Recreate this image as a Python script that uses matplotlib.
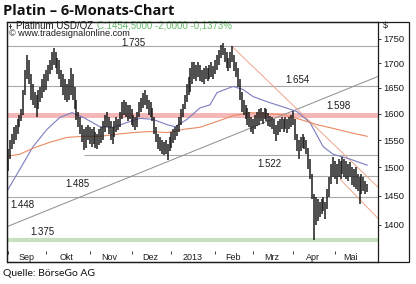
#Purpose: Platinum 6-month bar chart with support/resistance levels
##########################################
import matplotlib.pyplot as plt
import numpy as np
import pandas as pd
from matplotlib.patches import Rectangle

##########################################
#Data (USD/oz, daily bars)
start_date = '2012-09-03'

highs = [1533, 1551, 1561, 1574, 1579, 1589, 1598, 1608, 1647, 1687,
         1717, 1707, 1677, 1657, 1643, 1637, 1647, 1651, 1667, 1677,
         1687, 1697, 1707, 1723, 1731, 1723, 1711, 1707, 1687, 1677,
         1667, 1657, 1667, 1691, 1677, 1651, 1627, 1604, 1593, 1579,
         1570, 1574, 1579, 1575, 1570, 1574, 1566, 1561, 1570, 1574,
         1585, 1598, 1604, 1593, 1585, 1574, 1585, 1593, 1589, 1604,
         1623, 1627, 1623, 1617, 1617, 1608, 1598, 1593, 1604, 1623,
         1631, 1641, 1647, 1637, 1627, 1623, 1611, 1593, 1574, 1561,
         1555, 1551, 1547, 1551, 1542, 1555, 1566, 1570, 1574, 1579,
         1593, 1608, 1619, 1637, 1657, 1671, 1691, 1703, 1703, 1697,
         1703, 1697, 1687, 1691, 1695, 1691, 1697, 1703, 1695, 1707,
         1717, 1727, 1738, 1741, 1731, 1723, 1711, 1723, 1735, 1717,
         1703, 1691, 1667, 1643, 1627, 1617, 1611, 1604, 1593, 1589,
         1598, 1604, 1608, 1611, 1604, 1611, 1608, 1602, 1596, 1593,
         1589, 1579, 1585, 1589, 1593, 1589, 1593, 1589, 1593, 1598,
         1606, 1589, 1561, 1551, 1555, 1561, 1555, 1551, 1536, 1515,
         1488, 1452, 1447, 1444, 1439, 1444, 1447, 1439, 1461, 1483,
         1506, 1518, 1511, 1506, 1515, 1511, 1518, 1515, 1511, 1506,
         1509, 1500, 1497, 1500, 1488, 1483, 1488, 1483, 1475, 1470]

lows = [1493, 1515, 1533, 1542, 1551, 1561, 1574, 1585, 1598, 1637,
        1667, 1657, 1627, 1617, 1611, 1593, 1608, 1623, 1631, 1643,
        1647, 1663, 1677, 1687, 1697, 1691, 1677, 1667, 1651, 1637,
        1627, 1623, 1627, 1637, 1627, 1608, 1587, 1574, 1561, 1547,
        1531, 1536, 1551, 1542, 1538, 1542, 1536, 1533, 1540, 1544,
        1551, 1566, 1574, 1561, 1551, 1542, 1555, 1566, 1568, 1574,
        1589, 1598, 1593, 1585, 1589, 1579, 1574, 1568, 1574, 1593,
        1604, 1611, 1617, 1608, 1598, 1593, 1585, 1561, 1547, 1533,
        1529, 1524, 1522, 1524, 1513, 1529, 1536, 1544, 1551, 1557,
        1566, 1579, 1593, 1608, 1623, 1637, 1643, 1657, 1667, 1663,
        1671, 1663, 1661, 1657, 1667, 1663, 1667, 1671, 1667, 1677,
        1687, 1697, 1711, 1717, 1703, 1691, 1683, 1691, 1703, 1683,
        1671, 1651, 1627, 1604, 1598, 1589, 1579, 1574, 1566, 1561,
        1570, 1577, 1579, 1585, 1581, 1589, 1585, 1577, 1574, 1570,
        1561, 1549, 1559, 1566, 1570, 1566, 1570, 1564, 1570, 1574,
        1579, 1551, 1529, 1515, 1529, 1536, 1533, 1524, 1497, 1479,
        1444, 1375, 1400, 1406, 1413, 1418, 1423, 1410, 1427, 1447,
        1470, 1483, 1479, 1470, 1483, 1479, 1488, 1483, 1479, 1475,
        1483, 1468, 1465, 1461, 1458, 1435, 1452, 1458, 1452, 1456]

#Moving averages, sampled (bar index, price)
ma_fast_idx = [-0.5, 6.3, 13.2, 20.5, 27.4, 33.7, 39.5, 48.4, 55.3, 62.6, 69.5, 76.3, 83.7, 87.9,
               94.2, 101, 106.3, 110, 118.4, 123.7, 129, 136.3, 144.7, 152, 158.9, 165.8, 171, 180, 189]
ma_fast_val = [1458, 1497, 1538, 1570, 1593, 1602, 1593, 1575, 1574, 1583, 1591, 1589, 1579, 1575,
               1589, 1611, 1617, 1641, 1653, 1647, 1633, 1623, 1613, 1604, 1583, 1538, 1524, 1515, 1504]
ma_slow_idx = [-0.5, 6.3, 13.2, 22.1, 31.1, 39.5, 48.4, 57.4, 65.8, 74.7, 83.7, 92.1,
               101, 110, 118.4, 127.4, 136.3, 144.7, 153.7, 162.6, 171, 180, 189]
ma_slow_val = [1520, 1524, 1535, 1546, 1555, 1557, 1557, 1561, 1564, 1566, 1564, 1570,
               1574, 1585, 1596, 1602, 1600, 1598, 1589, 1579, 1572, 1564, 1557]

#Trend lines (bar index, price)
trend_up = [(-0.53, 1397), (194.7, 1673)]
trend_down = [(117.7, 1735), (194.7, 1465)]
channel_low = [(174.7, 1479), (194.7, 1411)]

#Horizontal levels
levels = [1735, 1654, 1522, 1485, 1448]
level_labels = ['1.735', '1.654', '1.522', '1.485', '1.448']
level_start = [None, None, 40, None, None]
resist_band = 1598
support_band = 1375

month_names = ['Sep', 'Okt', 'Nov', 'Dez', '2013', 'Feb', 'Mrz', 'Apr', 'Mai']
y_ticks = [1400, 1450, 1500, 1550, 1600, 1650, 1700, 1750]

##########################################
#Build index
dates = pd.bdate_range(start_date, periods=len(highs))
idx = np.arange(len(dates))
month_key = dates.year * 100 + dates.month
month_starts = []
month_mids = []
for key in pd.unique(month_key):
    pos = idx[month_key == key]
    month_starts.append(pos[0])
    month_mids.append((pos[0] + pos[-1]) / 2.)

font_name = 'Liberation Sans'
ink = '#1c1c1c'

fig = plt.figure(figsize=(4.16, 2.84), dpi=100)
ax = fig.add_axes([7/416, 22/284, 371/416, 240/284])
ax.set_yscale('log')
ax.set_xlim(-0.53, 194.7)
ax.set_ylim(1339, 1786)

#Bands and levels
ax.axhline(resist_band, color='#f5b8b8', lw=3.6, zorder=1)
ax.axhline(support_band, color='#c6e0c0', lw=3.0, zorder=1)
for lev, start in zip(levels, level_start):
    if start is None:
        ax.axhline(lev, color='#a9a9a9', lw=0.8, zorder=1)
    else:
        ax.hlines(lev, start, 194.7, color='#a9a9a9', lw=0.8, zorder=1)

#Trend lines
ax.plot(*zip(*trend_up), color='#8c8c8c', lw=0.7, zorder=2)
ax.plot(*zip(*trend_down), color='#eea68a', lw=0.7, zorder=2)
ax.plot(*zip(*channel_low), color='#eea68a', lw=0.7, zorder=2)

#Moving averages
ax.plot(ma_fast_idx, ma_fast_val, color='#7a7cc0', lw=0.8, zorder=2)
ax.plot(ma_slow_idx, ma_slow_val, color='#e98a62', lw=0.8, zorder=2)

#Price bars
ax.vlines(idx, lows, highs, color=ink, lw=1.1, zorder=3)

#Level labels
lab_pos = {'1.735': (59.5, 'bottom', 0.998), '1.654': (145.8, 'bottom', 1.001),
           '1.522': (131, 'top', 0.996), '1.485': (30, 'top', 0.996), '1.448': (1, 'top', 0.996)}
for lev, lab in zip(levels, level_labels):
    xp, va, f = lab_pos[lab]
    ax.text(xp, lev * f, lab, fontsize=7, fontname=font_name, color=ink, va=va, ha='left', zorder=4)
ax.text(167.4, resist_band * 1.004, '1.598', fontsize=7, fontname=font_name, color=ink, va='bottom', ha='left', zorder=4)
ax.text(11.6, support_band * 1.004, '1.375', fontsize=7, fontname=font_name, color=ink, va='bottom', ha='left', zorder=4)

#X axis (drawn inside frame)
ax.set_xticks([])
trans = ax.get_xaxis_transform()
ax.vlines(month_starts, 0.033, 0.047, transform=trans, color=ink, lw=0.6)
for m, name in zip(month_mids, month_names):
    ax.text(m, 0.018, name, transform=trans, fontsize=6.5, fontname=font_name, color=ink, ha='center', va='center')

#Y axis on the right
ax.yaxis.tick_right()
ax.minorticks_off()
ax.set_yticks(y_ticks)
ax.set_yticklabels([str(t) for t in y_ticks], fontname=font_name)
ax.tick_params(axis='y', direction='out', length=2, width=0.6, pad=1.5, labelsize=6.8, colors=ink)
ax.text(1.014, 0.9855, '$', transform=ax.transAxes, fontsize=6.5, fontname=font_name, color=ink, ha='left', va='center')

for sp in ax.spines.values():
    sp.set_linewidth(0.9)
    sp.set_color(ink)

#Header inside chart
ax.plot([0.0075, 0.0075], [0.974, 0.993], transform=ax.transAxes, color=ink, lw=0.6, clip_on=False)
ax.plot([0.0045, 0.0105], [0.9835, 0.9835], transform=ax.transAxes, color=ink, lw=0.6, clip_on=False)
ax.text(0.0245, 0.9835, 'Platinum USD/OZ', transform=ax.transAxes, fontsize=7, fontname=font_name, color=ink, ha='left', va='center')
ax.text(0.2426, 0.9835, 'C:1454,5000 -2,0000 -0,1373%', transform=ax.transAxes, fontsize=7, fontname=font_name, color='#66bb6a', ha='left', va='center')
ax.text(0.005, 0.95, '\u00a9 www.tradesignalonline.com', transform=ax.transAxes, fontsize=6.6, fontname=font_name, color=ink, ha='left', va='center')

#Outer frame
fig.patches.append(Rectangle((7/416, 22/284), 402/416, 240/284, transform=fig.transFigure,
                             fill=False, lw=0.9, edgecolor=ink))

#Titles outside
fig.text(3/416, 1 - 11/284, 'Platin \u2013 6-Monats-Chart', fontsize=10.5, fontweight='bold', fontname='Open Sans', color='#111111', va='center', ha='left')
fig.text(3/416, 1 - 273/284, 'Quelle: B\u00f6rseGo AG', fontsize=7.5, fontname='Lato', color='#111111', va='center', ha='left')

plt.savefig('out.png', dpi=100)
